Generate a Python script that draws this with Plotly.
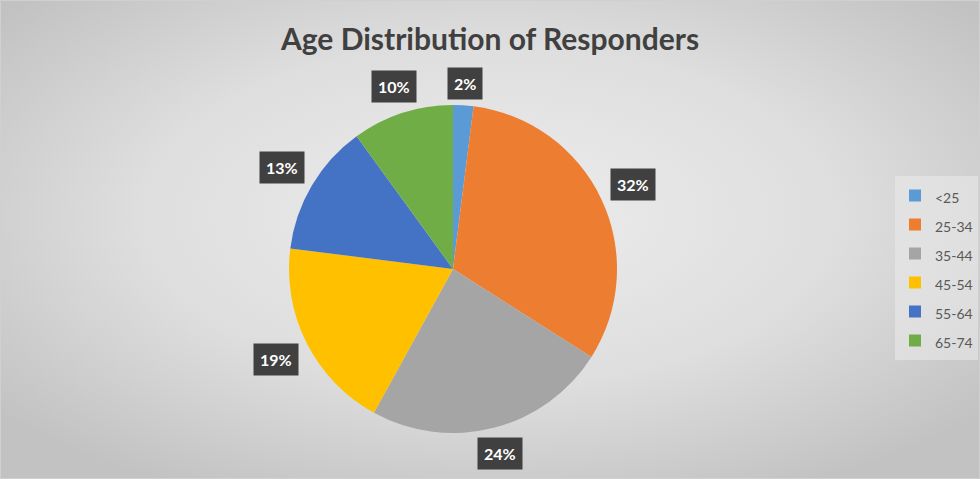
import math, base64
import plotly.graph_objects as go

categories = ["<25", "25-34", "35-44", "45-54", "55-64", "65-74"]
values = [2, 32, 24, 19, 13, 10]
colors = ["#5B9BD5", "#ED7D31", "#A5A5A5", "#FFC000", "#4472C4", "#70AD47"]
title_text = "Age Distribution of Responders"

W, H = 980, 479
cx, cy, R = 453, 269, 164

svg = f'''<svg xmlns="http://www.w3.org/2000/svg" width="{W}" height="{H}">
<defs><radialGradient id="g" cx="50%" cy="45%" r="65%">
<stop offset="0%" stop-color="#ededed"/><stop offset="55%" stop-color="#dedede"/><stop offset="100%" stop-color="#c2c2c2"/>
</radialGradient></defs>
<rect width="{W}" height="{H}" fill="url(#g)"/>
<rect x="0.5" y="0.5" width="{W-1}" height="{H-1}" fill="none" stroke="#d0d0d0" stroke-width="1"/></svg>'''
bg = "data:image/svg+xml;base64," + base64.b64encode(svg.encode()).decode()

fig = go.Figure()
fig.add_trace(go.Pie(
    labels=[f'<span style="font-size:14px">{c}</span>' for c in categories],
    values=values, sort=False, direction="clockwise", rotation=0,
    marker=dict(colors=colors, line=dict(width=0)),
    textinfo="none", hoverinfo="label+percent",
    domain=dict(x=[(cx - R) / W, (cx + R) / W], y=[(H - cy - R) / H, (H - cy + R) / H]),
))

total = sum(values)
annotations = []
cum = 0
for cat, v in zip(categories, values):
    mid = (cum + v / 2) / total * 2 * math.pi
    cum += v
    txt = f"{round(v / total * 100)}%"
    bw = 16 + 11 * len(txt)
    bh = 30
    d = 170 + abs(math.sin(mid)) * bw / 2 + abs(math.cos(mid)) * bh / 2
    px = cx + d * math.sin(mid)
    py = cy - d * math.cos(mid)
    annotations.append(dict(
        x=px / W, y=1 - py / H, xref="paper", yref="paper", showarrow=False,
        text=f"<b>{txt}</b>", font=dict(family="Lato, Carlito, sans-serif", size=16, color="white"),
        bgcolor="#404040", borderpad=6, xanchor="center", yanchor="middle",
    ))

fig.update_layout(
    width=W, height=H,
    margin=dict(l=0, r=0, t=0, b=0),
    paper_bgcolor="#d9d9d9",
    title=dict(text=f"<b>{title_text}</b>", x=0.5, xanchor="center", y=1 - 39 / H, yanchor="middle",
               font=dict(family="Lato, Carlito, sans-serif", size=30, color="#404040")),
    images=[dict(source=bg, xref="paper", yref="paper", x=0, y=1, sizex=1, sizey=1,
                 xanchor="left", yanchor="top", sizing="stretch", layer="below")],
    annotations=annotations,
    showlegend=True,
    legend=dict(x=895 / W, y=1 - 176 / H, xanchor="left", yanchor="top",
                bgcolor="rgba(235,235,235,0.55)", borderwidth=0, itemwidth=30,
                font=dict(family="Lato, Carlito, sans-serif", size=20, color="#595959")),
)
fig.write_html("out.html", config={"displayModeBar": False},
               post_script="document.body.style.margin='0';document.body.style.overflow='hidden';")
